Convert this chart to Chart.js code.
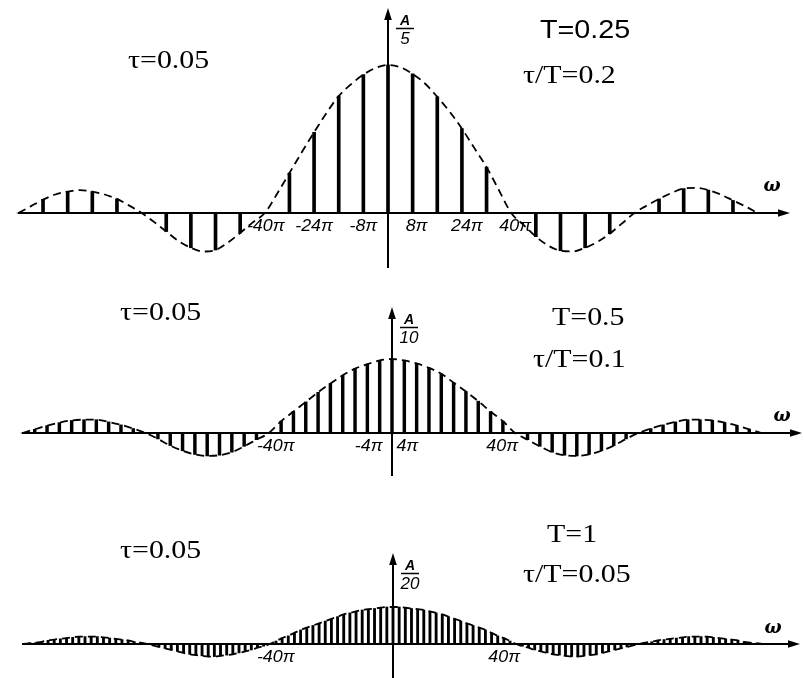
<!DOCTYPE html>
<html>
<head>
<meta charset="utf-8">
<script src="https://cdn.jsdelivr.net/npm/chart.js@4.4.1/dist/chart.umd.min.js"></script>
<style>
    html, body { margin: 0; padding: 0; background: #fff; }
    #wrap { position: relative; width: 804px; height: 678px; overflow: hidden; }
    canvas { position: absolute; left: 0; }
</style>
</head>
<body>
<div id="wrap">
    <canvas id="spec1" width="804" height="280" style="top:0px"></canvas>
    <canvas id="spec2" width="804" height="200" style="top:280px"></canvas>
    <canvas id="spec3" width="804" height="198" style="top:480px"></canvas>
</div>
<script>
// Line spacing in units of π (2π/T for T = 0.25, 0.5, 1)
const step1 = 8;
const step2 = 4;
const step3 = 2;

// Line amplitudes (units of A) from -120π to 120π
const lines1 = [
    0, 0.018, 0.029, 0.029, 0.019, 0, -0.025, -0.047, -0.050, -0.027, 0,
    0.054, 0.109, 0.158, 0.187, 0.200, 0.188, 0.157, 0.114, 0.062,
    0, -0.032, -0.051, -0.047, -0.028, 0, 0.019, 0.033, 0.031, 0.017, 0
];

// Envelope for the top panel, sampled every 4π
const envelope1 = [
    0, 0.009, 0.018, 0.025, 0.029, 0.031, 0.029, 0.025, 0.019, 0.010,
    0, -0.012, -0.025, -0.038, -0.047, -0.052, -0.050, -0.040, -0.027, -0.013,
    0, 0.026, 0.054, 0.082, 0.109, 0.135, 0.158, 0.174, 0.187, 0.196,
    0.200,
    0.197, 0.188, 0.175, 0.157, 0.137, 0.114, 0.088, 0.062, 0.031,
    0, -0.016, -0.032, -0.044, -0.051, -0.052, -0.047, -0.039, -0.028, -0.014,
    0, 0.010, 0.019, 0.027, 0.033, 0.034, 0.031, 0.025, 0.017, 0.009, 0
];

const lines2 = [
    0, 0.005, 0.010, 0.014, 0.017, 0.018, 0.018, 0.015, 0.011, 0.006, 0,
    -0.008, -0.017, -0.024, -0.029, -0.031, -0.030, -0.026, -0.018, -0.009, 0,
    0.016, 0.029, 0.042, 0.055, 0.067, 0.078, 0.087, 0.093, 0.098,
    0.100,
    0.098, 0.094, 0.088, 0.080, 0.068, 0.056, 0.043, 0.029, 0.016,
    0, -0.009, -0.018, -0.026, -0.030, -0.031, -0.029, -0.024, -0.017, -0.008,
    0, 0.006, 0.011, 0.015, 0.018, 0.018, 0.017, 0.014, 0.010, 0.005, 0
];

const lines3 = [
    0, 0.001, 0.002, 0.003, 0.005, 0.006, 0.007, 0.008, 0.009, 0.010,
    0.010, 0.010, 0.010, 0.009, 0.008, 0.007, 0.006, 0.005, 0.003, 0.002,
    0, -0.002, -0.004, -0.006, -0.008, -0.010, -0.012, -0.014, -0.015, -0.016,
    -0.017, -0.017, -0.016, -0.015, -0.014, -0.012, -0.010, -0.008, -0.005, -0.003,
    0, 0.004, 0.008, 0.011, 0.015, 0.019, 0.022, 0.025, 0.028, 0.031,
    0.034, 0.037, 0.040, 0.042, 0.044, 0.046, 0.047, 0.048, 0.049, 0.050,
    0.050,
    0.050, 0.049, 0.048, 0.047, 0.046, 0.044, 0.042, 0.040, 0.037,
    0.034, 0.031, 0.028, 0.025, 0.022, 0.019, 0.015, 0.011, 0.008, 0.004,
    0, -0.003, -0.005, -0.008, -0.010, -0.012, -0.014, -0.015, -0.016, -0.017,
    -0.017, -0.016, -0.015, -0.014, -0.012, -0.010, -0.008, -0.006, -0.004, -0.002,
    0, 0.002, 0.003, 0.005, 0.006, 0.007, 0.008, 0.009, 0.010, 0.010,
    0.010, 0.010, 0.009, 0.008, 0.007, 0.006, 0.005, 0.003, 0.002, 0.001,
    0
];

// Tick labels on the ω axis (units of π)
const ticks1 = [-40, -24, -8, 8, 24, 40];
const ticks2 = [-40, -4, 4, 40];
const ticks3 = [-40, 40];

// Amplitude axis labels (A over ...)
const peakDen1 = '5';
const peakDen2 = '10';
const peakDen3 = '20';

const PX_PER_PI = 3.08;
const PX_PER_A = 740;

function toPoints(values, step) {
    const mid = (values.length - 1) / 2;
    return values.map((v, i) => ({ x: (i - mid) * step, y: v }));
}

function drawArrow(ctx, x, y, dir) {
    // dir: 'right' or 'up', tip at (x, y)
    ctx.beginPath();
    if (dir === 'right') {
        ctx.moveTo(x, y);
        ctx.lineTo(x - 12, y - 3.8);
        ctx.lineTo(x - 12, y + 3.8);
    } else {
        ctx.moveTo(x, y);
        ctx.lineTo(x - 3.8, y + 12);
        ctx.lineTo(x + 3.8, y + 12);
    }
    ctx.closePath();
    ctx.fill();
}

function stretchedText(ctx, text, x, y, sx) {
    ctx.save();
    ctx.translate(x, y);
    ctx.scale(sx, 1);
    ctx.fillText(text, 0, 0);
    ctx.restore();
}

// Axes with arrows, ω tick labels, A/n label and the parameter notes
const spectrumAxes = {
    id: 'spectrumAxes',
    afterDatasetsDraw(chart, args, o) {
        const ctx = chart.ctx;
        const xs = chart.scales.x;
        const ys = chart.scales.y;
        const x0 = xs.getPixelForValue(0);
        const y0 = ys.getPixelForValue(0);

        ctx.save();
        ctx.strokeStyle = '#000';
        ctx.fillStyle = '#000';

        // ω axis
        ctx.lineWidth = 2.2;
        ctx.beginPath();
        ctx.moveTo(o.axisLeft, y0);
        ctx.lineTo(o.axisRight - 6, y0);
        ctx.stroke();
        drawArrow(ctx, o.axisRight, y0, 'right');

        // amplitude axis
        ctx.lineWidth = 2;
        ctx.beginPath();
        ctx.moveTo(x0, o.axisBottom);
        ctx.lineTo(x0, o.axisTop + 6);
        ctx.stroke();
        drawArrow(ctx, x0, o.axisTop, 'up');

        // tick labels
        ctx.font = 'italic 17px "Liberation Sans"';
        ctx.textAlign = 'center';
        ctx.textBaseline = 'middle';
        o.ticks.forEach((t, i) => {
            const label = (t < 0 ? '-' + (-t) : t) + 'π';
            stretchedText(ctx, label, xs.getPixelForValue(t) + (o.tickShift[i] || 0), y0 + 13, 1.05);
        });

        // ω
        ctx.font = 'italic bold 18px "DejaVu Serif"';
        ctx.fillText('ω', o.omegaAt[0], o.omegaAt[1]);

        // A / n
        const fx = x0 + 17;
        const ft = o.axisTop;
        ctx.font = 'italic bold 14px "Liberation Sans"';
        ctx.fillText('A', fx, ft + 13);
        ctx.lineWidth = 1.5;
        ctx.beginPath();
        ctx.moveTo(fx - 9, ft + 20.5);
        ctx.lineTo(fx + 9, ft + 20.5);
        ctx.stroke();
        ctx.font = 'italic 17px "Liberation Sans"';
        ctx.fillText(o.den, fx, ft + 31);

        // parameter notes
        ctx.textAlign = 'left';
        ctx.textBaseline = 'alphabetic';
        o.notes.forEach(n => {
            ctx.font = n.font;
            stretchedText(ctx, n.text, n.x, n.y, 1.15);
        });
        ctx.restore();
    }
};

function createSpectrum(id, lines, step, envelope, envStep, lineWidth, axis) {
    const ctx = document.getElementById(id).getContext('2d');
    const w = ctx.canvas.width;
    const h = ctx.canvas.height;
    new Chart(ctx, {
        type: 'bar',
        data: {
            datasets: [{
                type: 'line',
                label: 'envelope',
                data: toPoints(envelope, envStep),
                borderColor: '#000',
                borderWidth: 1.8,
                borderDash: [8, 5],
                pointRadius: 0,
                fill: false,
                cubicInterpolationMode: 'monotone',
                order: 1
            }, {
                type: 'bar',
                label: 'lines',
                data: toPoints(lines, step),
                backgroundColor: '#000',
                barThickness: lineWidth,
                borderWidth: 0,
                order: 2
            }]
        },
        options: {
            responsive: false,
            animation: false,
            events: [],
            layout: { padding: 0 },
            plugins: {
                legend: { display: false },
                tooltip: { enabled: false },
                spectrumAxes: axis
            },
            scales: {
                x: {
                    type: 'linear',
                    display: false,
                    offset: false,
                    min: -axis.x0 / PX_PER_PI,
                    max: (w - axis.x0) / PX_PER_PI
                },
                y: {
                    display: false,
                    min: -(h - axis.y0) / PX_PER_A,
                    max: axis.y0 / PX_PER_A
                }
            }
        },
        plugins: [spectrumAxes]
    });
}

const serif = '26px "Liberation Serif"';
const sans = '25px "Liberation Sans"';

createSpectrum('spec1', lines1, step1, envelope1, 4, 3, {
    x0: 388, y0: 213,
    axisLeft: 18, axisRight: 790, axisTop: 8, axisBottom: 268,
    ticks: ticks1, tickShift: [1, 0, 0, 4, 5, 4],
    omegaAt: [772, 186], den: peakDen1,
    notes: [
        { text: 'τ=0.05', x: 128, y: 68, font: serif },
        { text: 'T=0.25', x: 540, y: 38, font: sans },
        { text: 'τ/T=0.2', x: 523, y: 83, font: serif }
    ]
});

createSpectrum('spec2', lines2, step2, lines2, step2, 2.8, {
    x0: 392, y0: 153,
    axisLeft: 22, axisRight: 802, axisTop: 27, axisBottom: 196,
    ticks: ticks2, tickShift: [7, -11, 3, -13],
    omegaAt: [782, 136], den: peakDen2,
    notes: [
        { text: 'τ=0.05', x: 120, y: 40, font: serif },
        { text: 'T=0.5', x: 552, y: 45, font: serif },
        { text: 'τ/T=0.1', x: 533, y: 87, font: serif }
    ]
});

createSpectrum('spec3', lines3, step3, lines3, step3, 2.2, {
    x0: 393, y0: 164,
    axisLeft: 22, axisRight: 800, axisTop: 73, axisBottom: 198,
    ticks: ticks3, tickShift: [6, -12],
    omegaAt: [773, 148], den: peakDen3,
    notes: [
        { text: 'τ=0.05', x: 120, y: 78, font: serif },
        { text: 'T=1', x: 547, y: 62, font: serif },
        { text: 'τ/T=0.05', x: 523, y: 102, font: serif }
    ]
});
</script>
</body>
</html>
